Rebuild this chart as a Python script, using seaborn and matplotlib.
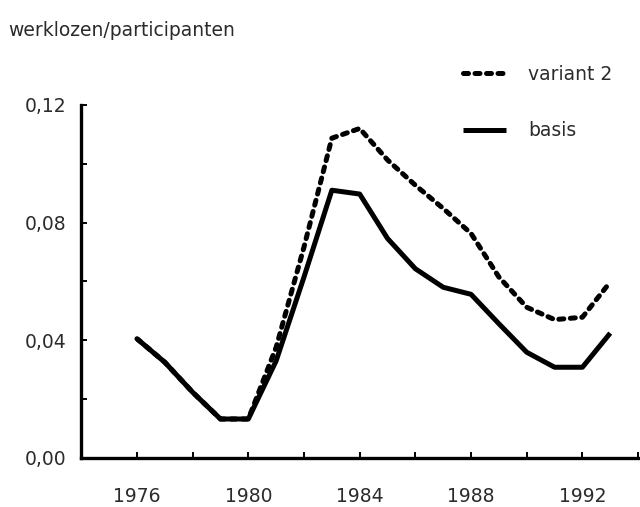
import pandas as pd
import matplotlib
matplotlib.use('Agg')
import matplotlib.pyplot as plt
import seaborn as sns

# data
YEARS = list(range(1976, 1994))
BASIS = [0.0405, 0.0325, 0.0223, 0.0132, 0.0132, 0.0330, 0.0615, 0.0910, 0.0897,
         0.0746, 0.0643, 0.0580, 0.0556, 0.0456, 0.0359, 0.0308, 0.0308, 0.0424]
VARIANT2 = [0.0405, 0.0325, 0.0223, 0.0132, 0.0132, 0.0376, 0.0717, 0.1087, 0.1120,
            0.1013, 0.0927, 0.0848, 0.0763, 0.0615, 0.0512, 0.0470, 0.0478, 0.0598]
Y_TICKS = [0.0, 0.04, 0.08, 0.12]
Y_LABELS = ['0,00', '0,04', '0,08', '0,12']
X_TICKS = [1976, 1980, 1984, 1988, 1992]

df = pd.DataFrame({'jaar': YEARS, 'basis': BASIS, 'variant 2': VARIANT2})

sns.set_style('white')
plt.rcParams['font.family'] = ['DejaVu Sans']
TXT = '#2b2b2b'
FS = 13.5

fig = plt.figure(figsize=(6.4, 5.07), dpi=100)
ax = fig.add_axes([0.127, 0.097, 0.870, 0.696])

# short dashes with round caps -> chain of blobs like the original
sns.lineplot(data=df, x='jaar', y='variant 2', ax=ax, color='black', linewidth=3.6,
             linestyle=(0, (1.0, 1.3)), dash_capstyle='round', label='variant 2')
sns.lineplot(data=df, x='jaar', y='basis', ax=ax, color='black', linewidth=3.6,
             solid_capstyle='butt', label='basis')

ax.set_xlim(1974, 1994)
ax.set_ylim(0, 0.12)
ax.set_xticks(X_TICKS)
ax.set_xticklabels([str(x) for x in X_TICKS])
ax.set_xticks(list(range(1978, 1995, 4)), minor=True)
ax.set_yticks(Y_TICKS)
ax.set_yticklabels(Y_LABELS)
ax.set_yticks([0.02, 0.06, 0.10], minor=True)
ax.set_xlabel('')
ax.set_ylabel('')

for s in ['top', 'right']:
    ax.spines[s].set_visible(False)
for s in ['left', 'bottom']:
    ax.spines[s].set_linewidth(2.4)
    ax.spines[s].set_color('black')

ax.tick_params(axis='both', which='both', direction='in', length=4, width=1.4,
               color='black', labelsize=FS, labelcolor=TXT)
ax.tick_params(axis='x', which='both', bottom=True, pad=21)
ax.tick_params(axis='y', which='both', left=True, pad=11)

ax.get_legend().remove()
handles, labels = ax.get_legend_handles_labels()
fig.legend(handles, labels, loc='upper left', bbox_to_anchor=(0.723, 0.872),
           frameon=False, fontsize=FS, handlelength=2.3, handletextpad=1.2,
           labelspacing=2.0, borderpad=0, borderaxespad=0, labelcolor=TXT)

fig.text(0.013, 0.94, 'werklozen/participanten', fontsize=FS, color=TXT,
         ha='left', va='center')

fig.savefig('out.png', dpi=100)
